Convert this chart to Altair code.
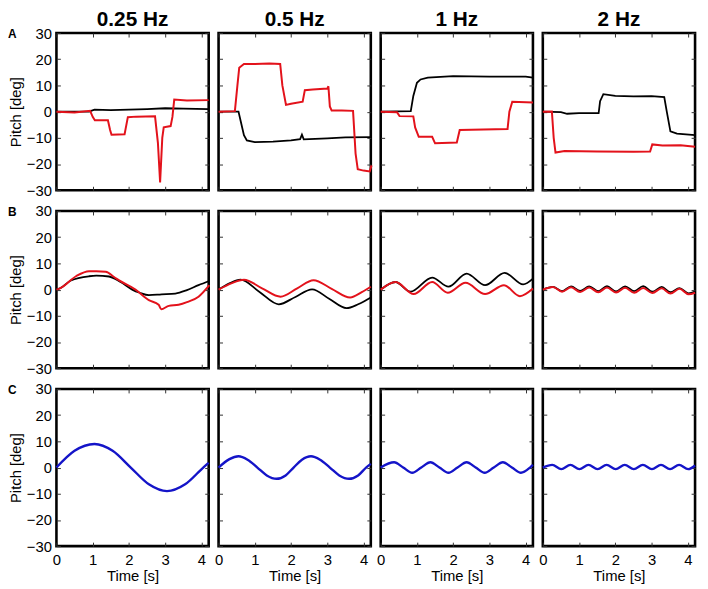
import altair as alt
import pandas as pd

FONT = "Liberation Sans"
FREQS = ["0.25 Hz", "0.5 Hz", "1 Hz", "2 Hz"]
ROW_LETTERS = ["A", "B", "C"]
YTICKS = [-30, -20, -10, 0, 10, 20, 30]
XTICKS = [0, 1, 2, 3, 4]
COLORS = {"black": "#000000", "red": "#e3121b", "blue": "#1414c8"}
WIDTHS = {"black": 1.8, "red": 2.0, "blue": 2.4}

# ---------------- Row A ----------------
A1_black_t = [0, 0.9, 1.05, 1.5, 2.0, 2.5, 3.0, 3.5, 4.2]
A1_black_v = [0, 0.0, 0.8, 0.6, 0.8, 1.0, 1.3, 1.2, 1.0]
A1_red_t = [0, 0.5, 0.93, 1.0, 1.06, 1.42, 1.48, 1.52, 1.88, 1.97, 2.2, 2.72, 2.8, 2.86, 2.92, 2.96, 3.15, 3.2, 3.25, 3.6, 4.2]
A1_red_v = [0, -0.3, 0.3, -2.0, -3.3, -3.3, -7.0, -8.8, -8.6, -2.1, -1.9, -1.8, -12.0, -27.0, -10.0, -6.0, -5.5, -2.0, 4.6, 4.3, 4.4]

A2_black_t = [0, 0.55, 0.6, 0.7, 0.78, 1.0, 1.5, 2.0, 2.25, 2.3, 2.35, 2.5, 3.0, 3.5, 4.22]
A2_black_v = [0, 0.0, -3.0, -9.0, -11.0, -11.6, -11.4, -11.0, -10.5, -8.8, -10.6, -10.5, -10.2, -9.8, -9.7]
A2_red_t = [0, 0.45, 0.52, 0.57, 0.7, 1.0, 1.4, 1.7, 1.76, 1.86, 2.0, 2.32, 2.38, 2.6, 3.0, 3.03, 3.07, 3.12, 3.4, 3.71, 3.78, 3.84, 4.0, 4.17, 4.22]
A2_red_v = [0, 0.2, 10.0, 16.8, 18.2, 18.2, 18.4, 18.2, 10.0, 2.6, 3.0, 3.8, 8.2, 8.5, 8.8, 9.7, 2.0, 0.4, 0.4, 0.3, -16.0, -22.0, -22.5, -22.8, -20.5]

A3_black_t = [0, 0.83, 0.9, 1.0, 1.1, 1.3, 2.0, 3.0, 4.0, 4.2]
A3_black_v = [0, 0.2, 6.0, 11.0, 12.3, 13.0, 13.6, 13.4, 13.4, 13.0]
A3_red_t = [0, 0.45, 0.52, 0.9, 0.95, 1.05, 1.42, 1.5, 2.1, 2.18, 2.5, 3.5, 3.55, 3.63, 4.2]
A3_red_v = [0, -0.2, -1.7, -1.8, -6.0, -9.6, -9.6, -12.1, -11.8, -7.0, -6.9, -6.6, 0.0, 3.8, 3.5]

A4_black_t = [0, 0.5, 0.67, 1.0, 1.54, 1.58, 1.67, 2.0, 2.5, 3.0, 3.35, 3.42, 3.52, 3.7, 4.2]
A4_black_v = [0, -0.2, -0.8, -0.6, -0.6, 4.0, 6.7, 6.0, 5.8, 5.9, 5.6, 0.0, -7.5, -8.4, -9.0]
A4_red_t = [0, 0.25, 0.3, 0.35, 0.6, 1.5, 2.5, 2.96, 3.02, 3.3, 3.8, 4.2]
A4_red_v = [0, 0.1, -10.0, -15.6, -15.0, -15.2, -15.3, -15.2, -12.5, -12.9, -12.8, -13.4]

# ---------------- Row B ----------------
B1_black_t = [0, 0.1, 0.4, 0.9, 1.1, 1.45, 1.77, 2.09, 2.3, 2.55, 2.9, 3.28, 3.6, 3.92, 4.22]
B1_black_v = [0, 0.5, 3.5, 5.1, 5.3, 5.0, 2.9, 0.0, -1.2, -2.1, -1.8, -1.5, -0.2, 1.7, 3.3]
B1_red_t = [0, 0.1, 0.54, 0.9, 1.1, 1.36, 1.59, 1.73, 2.18, 2.55, 2.82, 2.89, 3.1, 3.37, 3.6, 3.92, 4.22]
B1_red_v = [0, 0.5, 5.1, 7.0, 7.0, 6.8, 4.8, 3.5, 0.0, -4.0, -5.8, -7.5, -6.2, -5.8, -4.8, -2.7, 1.7]

B2_black_t = [0, 0.3, 0.61, 1.13, 1.66, 2.12, 2.58, 3.05, 3.53, 3.85, 4.2]
B2_black_v = [0, 2.4, 3.8, -0.9, -5.6, -2.8, 0.1, -3.5, -7.1, -5.6, -3.0]
B2_red_t = [0, 0.35, 0.7, 1.2, 1.71, 2.17, 2.62, 3.12, 3.63, 3.95, 4.2]
B2_red_v = [0, 2.4, 3.8, 0.5, -2.7, 0.5, 3.6, 0.3, -3.0, -1.0, 1.1]

B3_black_t = [0, 0.41, 0.82, 1.42, 1.87, 2.37, 2.88, 3.42, 3.93, 4.2]
B3_black_v = [0, 2.9, -0.8, 4.6, 1.1, 6.1, 1.7, 6.4, 2.0, 4.2]
B3_red_t = [0, 0.41, 0.91, 1.42, 1.85, 2.34, 2.88, 3.40, 3.84, 4.2]
B3_red_v = [0, 2.9, -1.7, 2.9, -1.2, 2.6, -1.7, 1.7, -2.5, 0.4]

B4_t = [0, 0.28, 0.53, 0.78, 1.03, 1.28, 1.53, 1.77, 2.02, 2.27, 2.52, 2.77, 3.02, 3.28, 3.52, 3.77, 4.02, 4.2]
B4_black_v = [0, 1.0, -0.6, 1.2, -0.5, 1.2, -0.6, 1.3, -0.7, 1.2, -0.6, 1.3, -0.8, 1.0, -1.0, 0.6, -1.4, -0.8]
B4_red_v = [0, 1.0, -0.8, 0.9, -0.9, 0.8, -1.0, 0.8, -1.1, 0.7, -1.2, 0.6, -1.3, 0.5, -1.5, 0.3, -1.8, -1.2]

# ---------------- Row C ----------------
C1_t = [0, 0.5, 1.05, 1.55, 2.05, 2.55, 3.05, 3.55, 4.05, 4.2]
C1_v = [0, 6.4, 9.0, 6.4, 0.0, -6.4, -9.0, -6.4, 0.0, 1.8]
C2_t = [0, 0.3, 0.55, 0.8, 1.07, 1.33, 1.6, 1.85, 2.07, 2.3, 2.55, 2.8, 3.07, 3.33, 3.6, 3.85, 4.07, 4.2]
C2_v = [0, 3.2, 4.3, 3.0, 0.0, -3.0, -4.3, -3.0, 0.0, 3.0, 4.3, 3.0, 0.0, -3.0, -4.3, -3.0, 0.0, 1.4]
C3_t = [0, 0.37, 0.62, 0.87, 1.12, 1.37, 1.62, 1.87, 2.12, 2.37, 2.62, 2.87, 3.12, 3.37, 3.62, 3.87, 4.12, 4.2]
C3_v = [0, 2.0, 0.0, -2.0, 0.0, 2.0, 0.0, -2.0, 0.0, 2.0, 0.0, -2.0, 0.0, 2.0, 0.0, -2.0, 0.0, 1.0]
C4_t = [0, 0.26, 0.51, 0.76, 1.01, 1.26, 1.51, 1.76, 2.01, 2.26, 2.51, 2.76, 3.01, 3.26, 3.51, 3.76, 4.01, 4.2]
C4_v = [0, 1.0, -0.6, 1.0, -0.6, 1.0, -0.6, 1.0, -0.6, 1.0, -0.6, 1.0, -0.6, 1.0, -0.6, 1.0, -0.6, 0.8]

SERIES = {
    (0, 0): [("black", A1_black_t, A1_black_v), ("red", A1_red_t, A1_red_v)],
    (0, 1): [("black", A2_black_t, A2_black_v), ("red", A2_red_t, A2_red_v)],
    (0, 2): [("black", A3_black_t, A3_black_v), ("red", A3_red_t, A3_red_v)],
    (0, 3): [("black", A4_black_t, A4_black_v), ("red", A4_red_t, A4_red_v)],
    (1, 0): [("black", B1_black_t, B1_black_v), ("red", B1_red_t, B1_red_v)],
    (1, 1): [("black", B2_black_t, B2_black_v), ("red", B2_red_t, B2_red_v)],
    (1, 2): [("black", B3_black_t, B3_black_v), ("red", B3_red_t, B3_red_v)],
    (1, 3): [("black", B4_t, B4_black_v), ("red", B4_t, B4_red_v)],
    (2, 0): [("blue", C1_t, C1_v)],
    (2, 1): [("blue", C2_t, C2_v)],
    (2, 2): [("blue", C3_t, C3_v)],
    (2, 3): [("blue", C4_t, C4_v)],
}

PW, PH = 154, 159


def panel(r, c):
    show_x = r == 2
    show_y = c == 0
    xs = alt.Scale(domain=[0, 4.2], nice=False, zero=False)
    ys = alt.Scale(domain=[-30, 30], nice=False, zero=False)
    common = dict(domain=False, grid=False, ticks=True, tickSize=4, offset=-4,
                  tickColor="#333333", tickWidth=1)
    xb = alt.Axis(orient="bottom", values=XTICKS, labels=show_x, labelFlush=False,
                  labelPadding=7, labelFontSize=15, labelFont=FONT, labelColor="black",
                  title="Time [s]" if show_x else None, titleFontSize=15, titleFont=FONT,
                  titleFontWeight="normal", titleColor="black", titlePadding=1, **common)
    yl = alt.Axis(orient="left", values=YTICKS, labels=show_y, labelFlush=False,
                  labelPadding=5, labelFontSize=15, labelFont=FONT, labelColor="black",
                  title="Pitch [deg]" if show_y else None, titleFontSize=15, titleFont=FONT,
                  titleFontWeight="normal", titleColor="black", titlePadding=3, **common)
    xt = alt.Axis(orient="top", values=XTICKS, labels=False, title=None, **common)
    yr = alt.Axis(orient="right", values=YTICKS, labels=False, title=None, **common)

    interp = "linear" if r == 0 else "monotone"
    layers = []
    for i, (name, t, v) in enumerate(SERIES[(r, c)]):
        df = pd.DataFrame({"t": t, "v": v})
        layers.append(
            alt.Chart(df).mark_line(color=COLORS[name], strokeWidth=WIDTHS[name],
                                    interpolate=interp)
            .encode(x=alt.X("t:Q", scale=xs, axis=xb if i == 0 else None),
                    y=alt.Y("v:Q", scale=ys, axis=yl if i == 0 else None))
        )
    name0, t0, v0 = SERIES[(r, c)][0]
    ghost = alt.Chart(pd.DataFrame({"t": t0, "v": v0})).mark_line(strokeOpacity=0).encode(
        x=alt.X("t:Q", scale=xs, axis=xt), y=alt.Y("v:Q", scale=ys, axis=yr))
    layers.append(ghost)
    if c == 0:
        lab = alt.Chart(pd.DataFrame({"lab": [ROW_LETTERS[r]]})).mark_text(
            align="left", baseline="top", fontSize=12, fontWeight="bold", font=FONT,
            color="black").encode(text="lab:N", x=alt.value(-49), y=alt.value(-4))
        layers.append(lab)
    ch = alt.layer(*layers).resolve_axis(x="independent", y="independent").properties(
        width=PW, height=PH)
    if r == 0:
        ch = ch.properties(title=alt.TitleParams(FREQS[c], fontSize=21, fontWeight="bold",
                                                 font=FONT, color="black",
                                                 offset=-4 if c == 0 else 3,
                                                 anchor="middle"))
    return ch


panels = [panel(r, c) for r in range(3) for c in range(4)]

chart = alt.concat(*panels, columns=4, spacing={"row": 21, "column": 10},
                   bounds="flush").properties(
    autosize=alt.AutoSizeParams(type="none"),
    padding={"left": 49, "top": 22, "right": 651, "bottom": 559},
).configure_view(stroke="black", strokeWidth=2.6)

chart.save("out.html", embed_options={"renderer": "svg", "actions": False})
